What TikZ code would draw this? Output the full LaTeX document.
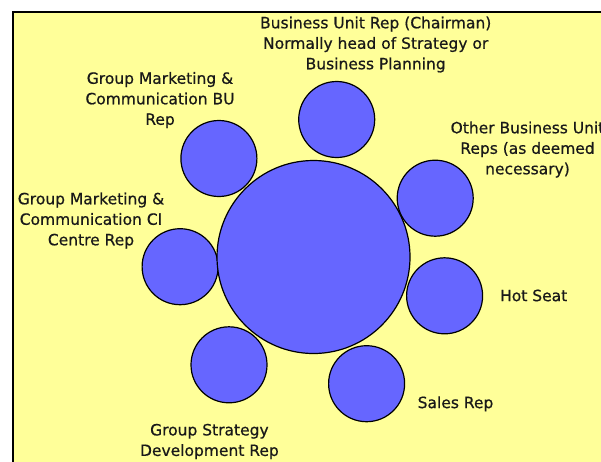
\documentclass[tikz,border=0pt]{standalone}
\usepackage{fontspec}
\setmainfont{DejaVu Sans}
\newfontfamily\rolefont{DejaVu Sans}[FakeBold=0.6]
\usepackage{xcolor}
\definecolor{bgyellow}{RGB}{255,255,153}
\definecolor{seatblue}{RGB}{102,102,255}
\tikzset{
    seat/.style={circle, draw=black, line width=1.2pt, fill=seatblue, minimum size=76pt, inner sep=0pt},
    bigtable/.style={circle, draw=black, line width=1.2pt, fill=seatblue, minimum size=193pt, inner sep=0pt},
    role/.style={align=center, inner sep=0pt, text=black!90, font=\rolefont\fontsize{15.5}{20.5}\selectfont}
}

\begin{document}
\begin{tikzpicture}[x=1pt, y=-1pt]
        \fill[white] (0, 0) rectangle (601, 461);
        \useasboundingbox (0, 0) rectangle (601, 461);
        \draw[fill=bgyellow, line width=2pt] (13, 12) rectangle (640, 500);

        \node[seat] (chair) at (336.7, 119.5) {};
        \node[seat] (mktbu) at (218.9, 158.5) {};
        \node[seat] (otherbu) at (435.2, 198.2) {};
        \node[seat] (mktci) at (180.1, 266.7) {};
        \node[seat] (hotseat) at (444.6, 295.8) {};
        \node[seat] (strategy) at (229, 364.8) {};
        \node[seat] (sales) at (366.6, 383.7) {};
        \node[bigtable] (table) at (313.5, 257) {};

        \node[role] (chairlbl) at (375.7, 44.5) {Business Unit Rep (Chairman)\\ Normally head of Strategy or\\ Business Planning};
        \node[role] (mktbulbl) at (160, 100) {Group Marketing \&\\ Communication BU\\ Rep};
        \node[role] (otherbulbl) at (527.5, 149.5) {Other Business Unit\\ Reps (as deemed\\ necessary)};
        \node[role] (mktcilbl) at (91, 220.5) {Group Marketing \&\\ Communication CI\\ Centre Rep};
        \node[role] (hotseatlbl) at (533.7, 295.5) {Hot Seat};
        \node[role] (strategylbl) at (209.4, 441.5) {Group Strategy\\ Development Rep};
        \node[role] (saleslbl) at (455.5, 403.8) {Sales Rep};
    \end{tikzpicture}
\end{document}
